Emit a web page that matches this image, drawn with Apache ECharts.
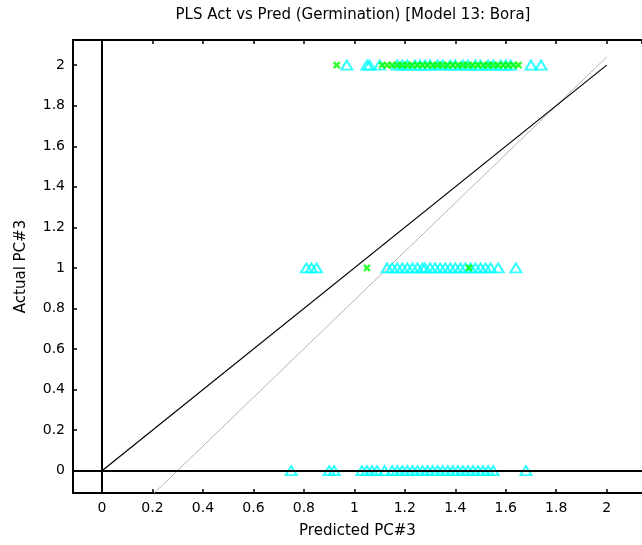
<!DOCTYPE html>
<html>
<head>
<meta charset="utf-8">
<script src="https://cdn.jsdelivr.net/npm/echarts@6/dist/echarts.min.js"></script>
<style>
  html, body { margin: 0; padding: 0; background: #fff; }
  #chart { width: 642px; height: 545px; }
</style>
</head>
<body>
<div id="chart"></div>
<script>
// 实际值的三个等级
var actualLevels = [0, 1, 2];

// 三角形 (预测值) —— 每个等级一组
var predAt0 = [0.75, 0.90, 0.92, 1.03, 1.05, 1.07, 1.09, 1.12, 1.15, 1.17, 1.19, 1.21, 1.23, 1.25,
               1.27, 1.29, 1.31, 1.33, 1.35, 1.37, 1.39, 1.41, 1.43, 1.45, 1.47, 1.49, 1.51, 1.53, 1.55, 1.68];
var predAt1 = [0.81, 0.83, 0.85, 1.13, 1.15, 1.17, 1.19, 1.21, 1.23, 1.25, 1.27, 1.28, 1.30, 1.32,
               1.34, 1.36, 1.38, 1.40, 1.42, 1.44, 1.46, 1.48, 1.50, 1.52, 1.54, 1.57, 1.64];
var predAt2 = [0.97, 1.05, 1.06, 1.10, 1.17, 1.19, 1.21, 1.24, 1.26, 1.28, 1.30, 1.33, 1.35, 1.38,
               1.40, 1.43, 1.45, 1.48, 1.50, 1.53, 1.55, 1.58, 1.60, 1.62, 1.70, 1.74];

// 绿色 x 标记
var crossAt1 = [1.05, 1.455];
var crossAt2 = [0.93, 1.11, 1.13, 1.15, 1.17, 1.19, 1.21, 1.23, 1.25, 1.27, 1.29, 1.31, 1.33, 1.35,
                1.37, 1.39, 1.41, 1.43, 1.45, 1.47, 1.49, 1.51, 1.53, 1.55, 1.57, 1.59, 1.61, 1.63, 1.65];

// 参考线
var identityLine = [[0, 0], [2, 2]];
var fitLine = [[0.207, -0.11], [2.0, 2.04]];

var xTickLabels = ['0', '0.2', '0.4', '0.6', '0.8', '1', '1.2', '1.4', '1.6', '1.8', '2'];

function toPoints(values, level) {
    return values.map(function(v) { return [v, level]; });
}

var triangles = []
    .concat(toPoints(predAt0, actualLevels[0]))
    .concat(toPoints(predAt1, actualLevels[1]))
    .concat(toPoints(predAt2, actualLevels[2]));
var crosses = []
    .concat(toPoints(crossAt1, actualLevels[1]))
    .concat(toPoints(crossAt2, actualLevels[2]));

var chart = echarts.init(document.getElementById('chart'));
var font = 'DejaVu Sans';

var option = {
    animation: false,
    backgroundColor: '#fff',
    textStyle: { fontFamily: font },
    title: {
        text: 'PLS Act vs Pred (Germination) [Model 13: Bora]',
        left: 348, top: 3, textAlign: 'center',
        textStyle: { fontFamily: font, fontSize: 15, fontWeight: 'normal', color: '#000' }
    },
    grid: { left: 73, top: 40, right: -11, bottom: 52 },
    xAxis: [{
        type: 'value', min: -0.115, max: 2.14, minInterval: 0.2, maxInterval: 0.2,
        name: 'Predicted PC#3', nameLocation: 'middle', nameGap: 31,
        nameTextStyle: { fontFamily: font, fontSize: 15, color: '#000' },
        axisLine: { onZero: false, lineStyle: { color: '#000', width: 2 } },
        axisTick: { inside: true, length: 4, lineStyle: { color: '#000', width: 1.5 } },
        axisLabel: {
            showMinLabel: false, showMaxLabel: false, margin: 8,
            fontFamily: font, fontSize: 14, color: '#000',
            formatter: function(v) {
                var s = String(Math.round(v * 10) / 10);
                return xTickLabels.indexOf(s) >= 0 ? s : '';
            }
        },
        splitLine: { show: false }
    }, {
        type: 'value', position: 'top', min: -0.115, max: 2.14, minInterval: 0.2, maxInterval: 0.2,
        axisLine: { onZero: false, lineStyle: { color: '#000', width: 2 } },
        axisTick: { inside: true, length: 4, lineStyle: { color: '#000', width: 1.5 } },
        axisLabel: { show: false },
        splitLine: { show: false }
    }],
    yAxis: {
        type: 'value', min: -0.11, max: 2.124, minInterval: 0.2, maxInterval: 0.2,
        name: 'Actual PC#3', nameLocation: 'middle', nameGap: 44, nameRotate: 90,
        nameTextStyle: { fontFamily: font, fontSize: 15, color: '#000' },
        axisLine: { onZero: false, lineStyle: { color: '#000', width: 2 } },
        axisTick: { inside: true, length: 4, lineStyle: { color: '#000', width: 1.5 } },
        axisLabel: {
            showMinLabel: false, showMaxLabel: false, margin: 8,
            fontFamily: font, fontSize: 14, color: '#000'
        },
        splitLine: { show: false }
    },
    series: [{
        type: 'line',
        data: fitLine,
        symbol: 'none',
        lineStyle: { color: '#b4b4b4', width: 1 },
        z: 1
    }, {
        type: 'line',
        data: identityLine,
        symbol: 'none',
        lineStyle: { color: '#000', width: 1.2 },
        z: 2,
        markLine: {
            silent: true,
            symbol: 'none',
            label: { show: false },
            lineStyle: { color: '#000', width: 2, type: 'solid' },
            data: [{ xAxis: 0 }, { yAxis: 0 }]
        }
    }, {
        type: 'scatter',
        data: triangles,
        symbol: 'triangle',
        symbolSize: [11, 9],
        itemStyle: { color: 'rgba(0,0,0,0)', borderColor: '#00ffff', borderWidth: 2 },
        z: 3
    }, {
        type: 'scatter',
        data: crosses,
        symbol: 'path://M0,0L10,10M10,0L0,10',
        symbolSize: 6,
        itemStyle: { color: 'rgba(0,0,0,0)', borderColor: '#00ff00', borderWidth: 2.5 },
        z: 4
    }]
};

chart.setOption(option);
</script>
</body>
</html>
